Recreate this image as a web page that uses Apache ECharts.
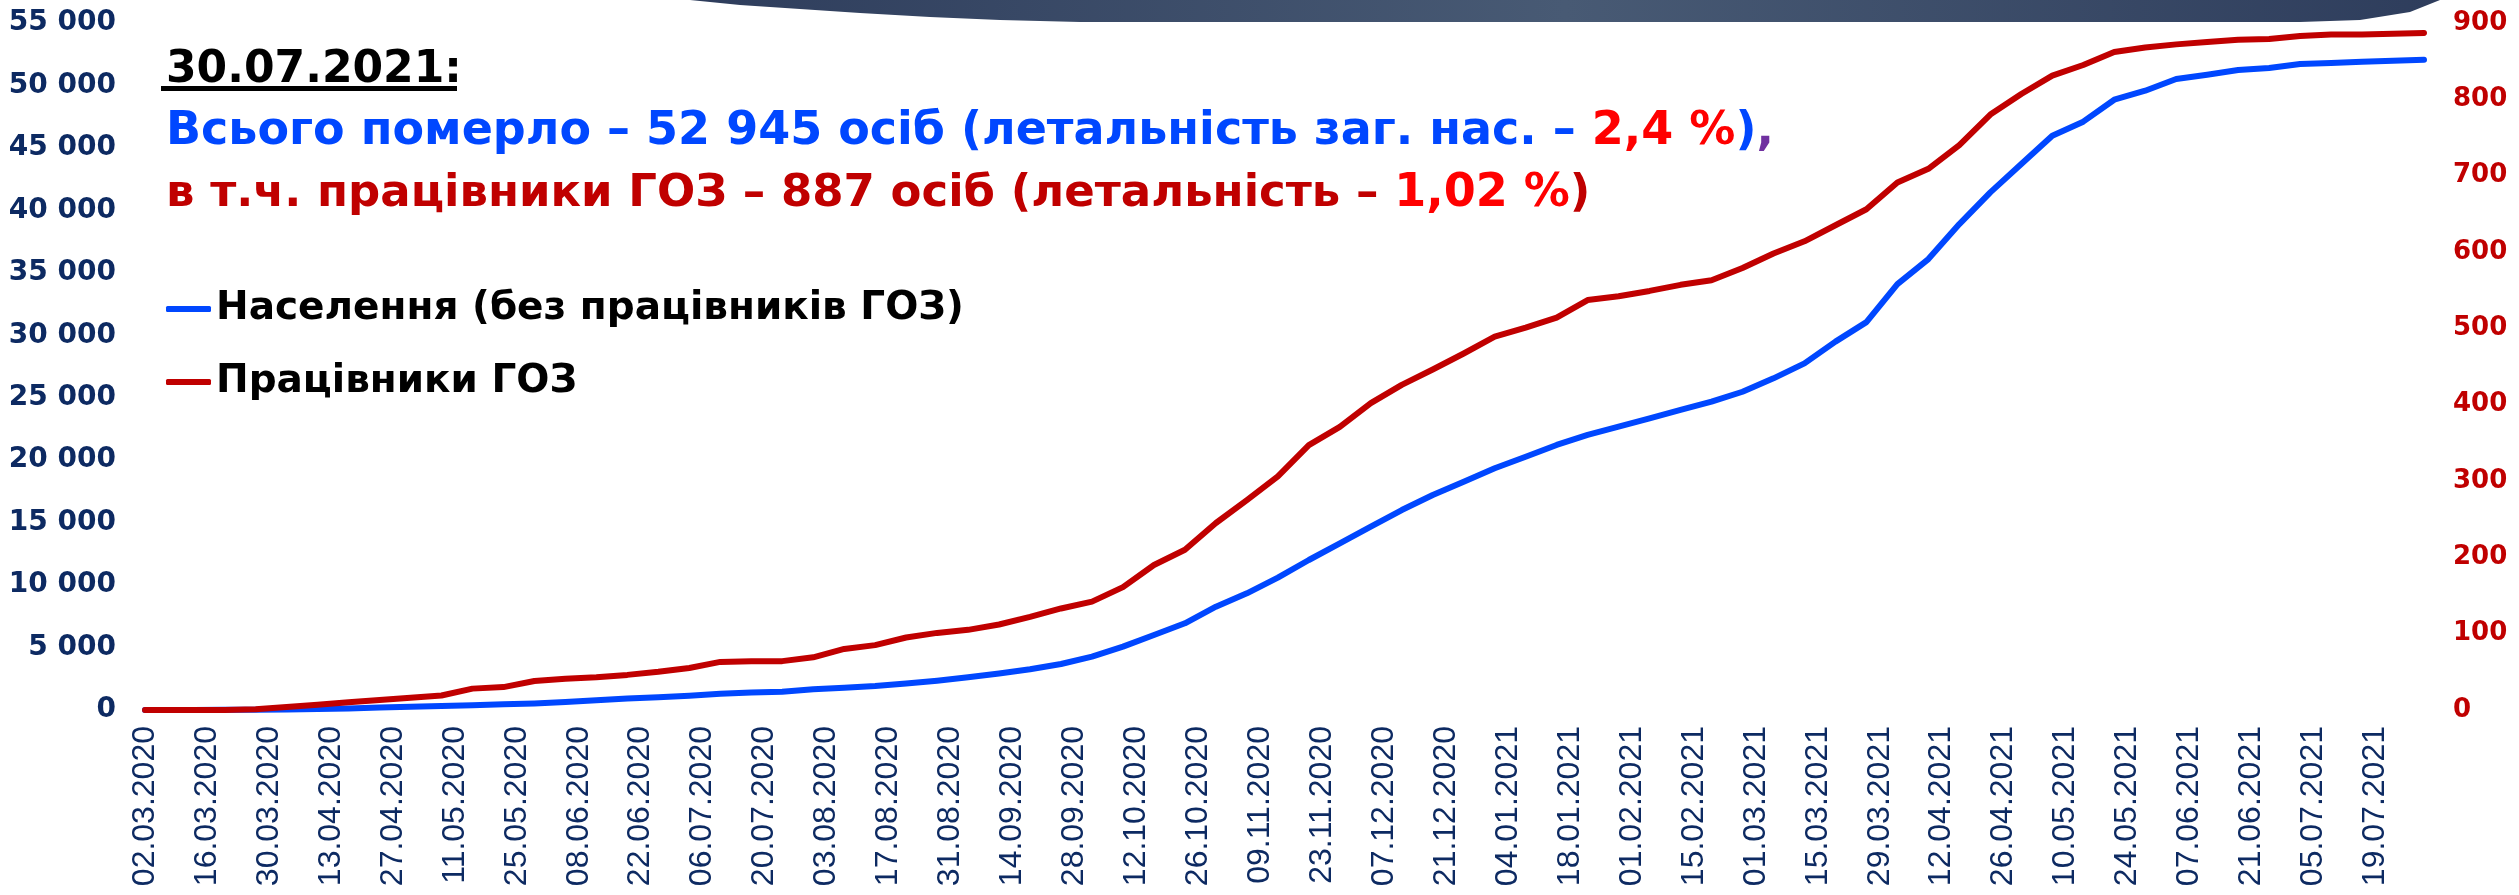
<!DOCTYPE html>
<html>
<head>
<meta charset="utf-8">
<script src="https://cdn.jsdelivr.net/npm/echarts@6/dist/echarts.min.js"></script>
<style>
html,body{margin:0;padding:0;background:#fff;}
#chart{width:2519px;height:895px;}
</style>
</head>
<body>
<div id="chart"></div>
<script>
// x tick labels (every 14 days from 02.03.2020)
const xTickLabels = ['02.03.2020','16.03.2020','30.03.2020','13.04.2020','27.04.2020','11.05.2020','25.05.2020','08.06.2020','22.06.2020','06.07.2020','20.07.2020','03.08.2020','17.08.2020','31.08.2020','14.09.2020','28.09.2020','12.10.2020','26.10.2020','09.11.2020','23.11.2020','07.12.2020','21.12.2020','04.01.2021','18.01.2021','01.02.2021','15.02.2021','01.03.2021','15.03.2021','29.03.2021','12.04.2021','26.04.2021','10.05.2021','24.05.2021','07.06.2021','21.06.2021','05.07.2021','19.07.2021'];

// data point positions: days after 02.03.2020 (start + weekly Fridays up to 30.07.2021)
const pointDays = [0,4,11,18,25,32,39,46,53,60,67,74,81,88,95,102,109,116,123,130,137,144,151,158,165,172,179,186,193,200,207,214,221,228,235,242,249,256,263,270,277,284,291,298,305,312,319,326,333,340,347,354,361,368,375,382,389,396,403,410,417,424,431,438,445,452,459,466,473,480,487,494,501,508,515];

// Населення (без працівників ГОЗ) — left axis
const populationDeaths = [0,0,5,15,30,45,80,130,200,260,320,390,460,530,650,780,930,1030,1140,1300,1400,1470,1660,1790,1920,2130,2350,2620,2930,3260,3680,4270,5070,6000,6940,8270,9340,10600,12010,13340,14680,16010,17210,18280,19350,20280,21220,22020,22680,23350,24020,24680,25480,26550,27750,29490,31050,34100,36100,38900,41440,43710,45980,47100,48860,49580,50520,50860,51240,51400,51720,51800,51900,51980,52058];

// Працівники ГОЗ — right axis
const hcwDeaths = [0,0,0,0,1,4,7,10,13,16,19,28,30,38,41,43,46,50,55,63,64,64,69,80,85,95,101,105,112,122,133,142,161,190,210,245,275,306,347,371,402,426,446,467,489,501,514,537,542,549,557,563,579,598,614,635,656,691,709,740,780,807,831,845,862,868,872,875,878,879,883,885,885,886,887];

const leftTicks = {min:0, max:55000, interval:5000};
const rightTicks = {min:0, max:900, interval:100};

const seriesNames = ['Населення (без працівників ГОЗ)', 'Працівники ГОЗ'];

const chart = echarts.init(document.getElementById('chart'), null, {renderer:'canvas'});
const fmtThousands = v => String(v).replace(/\B(?=(\d{3})+(?!\d))/g, ' ');
const FONT = '"DejaVu Sans", sans-serif';

chart.setOption({
  backgroundColor:'#ffffff',
  animation:false,
  grid:{left:145, right:95, top:23, bottom:185, containLabel:false},
  title:{
    left:161, top:36,
    text:'{d|30.07.2021:}\n{b|Всього померло – 52 945 осіб (летальність заг. нас. – }{r|2,4 %}{b|)}{p|,}\n{k|в т.ч. працівники ГОЗ – 887 осіб (летальність – }{r|1,02 %}{k|)}',
    textStyle:{
      rich:{
        d:{fontFamily:FONT, fontWeight:'bold', fontSize:44, color:'#000000', lineHeight:60},
        b:{fontFamily:FONT, fontWeight:'bold', fontSize:46, color:'#0047ff', lineHeight:62},
        r:{fontFamily:FONT, fontWeight:'bold', fontSize:46, color:'#ff0000', lineHeight:62},
        p:{fontFamily:FONT, fontWeight:'bold', fontSize:46, color:'#7030a0', lineHeight:62},
        k:{fontFamily:FONT, fontWeight:'bold', fontSize:45, color:'#c00000', lineHeight:62}
      }
    }
  },
  legend:{
    orient:'vertical', left:161, top:283,
    itemWidth:45, itemHeight:6, itemGap:31,
    icon:'roundRect',
    textStyle:{fontFamily:FONT, fontWeight:'bold', fontSize:39, color:'#000000', lineHeight:42},
    data:seriesNames
  },
  xAxis:{
    type:'value', min:0, max:515, interval:14,
    axisLine:{show:false}, axisTick:{show:false}, splitLine:{show:false},
    axisLabel:{
      rotate:90, margin:16, showMaxLabel:false,
      fontFamily:'"Liberation Sans", sans-serif', fontSize:32, color:'#0d2a62',
      formatter:v => (v % 14 === 0 && xTickLabels[v/14]) ? xTickLabels[v/14] : ''
    }
  },
  yAxis:[
    {type:'value', min:leftTicks.min, max:leftTicks.max, interval:leftTicks.interval,
     axisLine:{show:false}, axisTick:{show:false}, splitLine:{show:false},
     axisLabel:{margin:29, fontFamily:FONT, fontWeight:'bold', fontSize:28, color:'#0d2a62', formatter:fmtThousands}},
    {type:'value', min:rightTicks.min, max:rightTicks.max, interval:rightTicks.interval,
     axisLine:{show:false}, axisTick:{show:false}, splitLine:{show:false},
     axisLabel:{margin:29, fontFamily:FONT, fontWeight:'bold', fontSize:26, color:'#c00000'}}
  ],
  series:[
    {name:seriesNames[0], type:'line', yAxisIndex:0, showSymbol:false, symbol:'none',
     lineStyle:{color:'#0047ff', width:6, cap:'round', join:'round'}, itemStyle:{color:'#0047ff'},
     data:pointDays.map((d,i)=>[d, populationDeaths[i]]), z:3},
    {name:seriesNames[1], type:'line', yAxisIndex:1, showSymbol:false, symbol:'none',
     lineStyle:{color:'#c00000', width:6, cap:'round', join:'round'}, itemStyle:{color:'#c00000'},
     data:pointDays.map((d,i)=>[d, hcwDeaths[i]]), z:4}
  ],
  graphic:[
    {type:'polygon', z:-1,
     shape:{points:[[690,0],[740,5],[800,9],[860,13],[930,17],[1000,20],[1080,22],[2300,22],[2360,20],[2410,12],[2440,0]]},
     style:{fill:new echarts.graphic.LinearGradient(0,0,1,0,[{offset:0,color:'#2e3d5c'},{offset:0.5,color:'#485a74'},{offset:1,color:'#2e3d5c'}])}},
    {type:'rect', shape:{x:161, y:86, width:296, height:5}, style:{fill:'#000000'}}
  ]
});
</script>
</body>
</html>
